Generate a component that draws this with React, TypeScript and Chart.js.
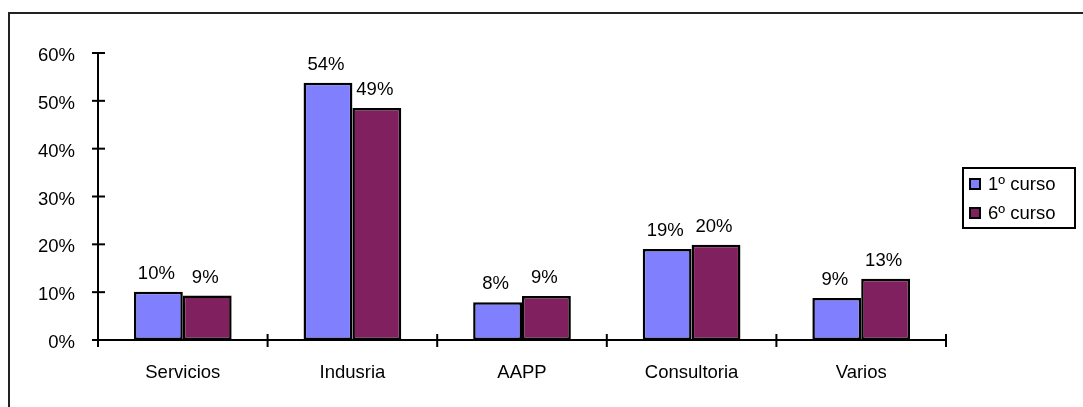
import React, { useEffect, useRef } from "react";
import { Chart, registerables } from "chart.js";

Chart.register(...registerables);

const categories = ["Servicios", "Indusria", "AAPP", "Consultoria", "Varios"];
const series1Label = "1º curso";
const series2Label = "6º curso";
const series1 = [10.1, 53.8, 7.9, 19.0, 8.8];
const series2 = [9.3, 48.5, 9.2, 19.9, 12.8];
const series1Text = ["10%", "54%", "8%", "19%", "9%"];
const series2Text = ["9%", "49%", "9%", "20%", "13%"];
const yTicks = [0, 10, 20, 30, 40, 50, 60];

const FONT = "'Liberation Sans', Arial, sans-serif";
const FSIZE = 18.5;
const BLUE = "#8080FF";
const MAROON = "#80205F";

const framePlugin = {
  id: "frame",
  beforeDraw(chart: any) {
    const ctx = chart.ctx;
    ctx.save();
    ctx.strokeStyle = "#222";
    ctx.lineWidth = 2;
    ctx.beginPath();
    ctx.moveTo(9, 410);
    ctx.lineTo(9, 13);
    ctx.lineTo(1090, 13);
    ctx.stroke();
    ctx.restore();
  },
  afterDraw(chart: any) {
    const ctx = chart.ctx;
    const xs = chart.scales.x;
    const ys = chart.scales.y;
    const left = chart.chartArea.left;
    const right = chart.chartArea.right;
    const bottom = ys.getPixelForValue(0);
    const top = ys.getPixelForValue(60);
    ctx.save();
    ctx.strokeStyle = "#000";
    ctx.lineWidth = 2;
    ctx.beginPath();
    ctx.moveTo(left, top);
    ctx.lineTo(left, bottom);
    ctx.lineTo(right, bottom);
    ctx.stroke();
    yTicks.forEach((v) => {
      const y = ys.getPixelForValue(v);
      ctx.beginPath();
      ctx.moveTo(left - 6, y);
      ctx.lineTo(left + 7, y);
      ctx.stroke();
    });
    const n = categories.length;
    const w = (right - left) / n;
    for (let i = 0; i <= n; i++) {
      const x = i < n ? xs.getPixelForValue(i) - w / 2 : xs.getPixelForValue(n - 1) + w / 2;
      ctx.beginPath();
      ctx.moveTo(x, bottom - 6);
      ctx.lineTo(x, bottom + 7);
      ctx.stroke();
    }
    ctx.fillStyle = "#000";
    ctx.font = `${FSIZE}px ${FONT}`;
    ctx.textAlign = "center";
    ctx.textBaseline = "middle";
    const texts = [series1Text, series2Text];
    chart.data.datasets.forEach((ds: any, di: number) => {
      const meta = chart.getDatasetMeta(di);
      meta.data.forEach((bar: any, i: number) => {
        ctx.fillText(texts[di][i], bar.x - 2, bar.y - 18);
      });
    });
    ctx.lineWidth = 2;
    ctx.strokeStyle = "#000";
    ctx.strokeRect(963, 168, 112, 60);
    const items = [
      { label: chart.data.datasets[0].label, color: chart.data.datasets[0].backgroundColor, y: 184 },
      { label: chart.data.datasets[1].label, color: chart.data.datasets[1].backgroundColor, y: 213 },
    ];
    items.forEach((it) => {
      ctx.fillStyle = it.color;
      ctx.fillRect(970, it.y - 5, 10, 10);
      ctx.lineWidth = 2;
      ctx.strokeRect(970, it.y - 5, 10, 10);
      ctx.fillStyle = "#000";
      ctx.textAlign = "left";
      ctx.fillText(it.label, 988, it.y + 1);
    });
    ctx.restore();
  },
};

export default function App() {
  const ref = useRef<HTMLCanvasElement>(null);
  useEffect(() => {
    if (!ref.current) return;
    const common = {
      borderColor: "#000",
      borderWidth: 2.5,
      borderSkipped: false,
      categoryPercentage: 0.576,
      barPercentage: 1,
    };
    const chart = new Chart(ref.current, {
      type: "bar",
      data: {
        labels: categories,
        datasets: [
          { label: series1Label, data: series1, backgroundColor: BLUE, ...common },
          { label: series2Label, data: series2, backgroundColor: MAROON, ...common },
        ],
      },
      options: {
        animation: false,
        responsive: false,
        maintainAspectRatio: false,
        layout: { padding: { left: 0, top: 53, right: 1083 - 946, bottom: 0 } },
        plugins: { legend: { display: false }, tooltip: { enabled: false } },
        scales: {
          x: {
            grid: { display: false, drawTicks: false },
            border: { display: false },
            ticks: {
              color: "#000",
              font: { family: FONT, size: FSIZE },
              padding: 22,
              maxRotation: 0,
            },
            afterFit(scale: any) {
              scale.height = 407 - 340;
            },
          },
          y: {
            min: 0,
            max: 60,
            grid: { display: false, drawTicks: false },
            border: { display: false },
            ticks: {
              stepSize: 10,
              color: "#000",
              font: { family: FONT, size: FSIZE },
              padding: 23,
              labelOffset: 3,
              callback: (v: any) => `${v}%`,
            },
            afterFit(scale: any) {
              scale.width = 98;
            },
          },
        },
      },
      plugins: [framePlugin],
    });
    return () => chart.destroy();
  }, []);
  return (
    <div style={{ position: "fixed", left: 0, top: 0, width: 1083, height: 407, background: "#fff" }}>
      <canvas ref={ref} width={1083} height={407} style={{ display: "block" }} />
    </div>
  );
}
